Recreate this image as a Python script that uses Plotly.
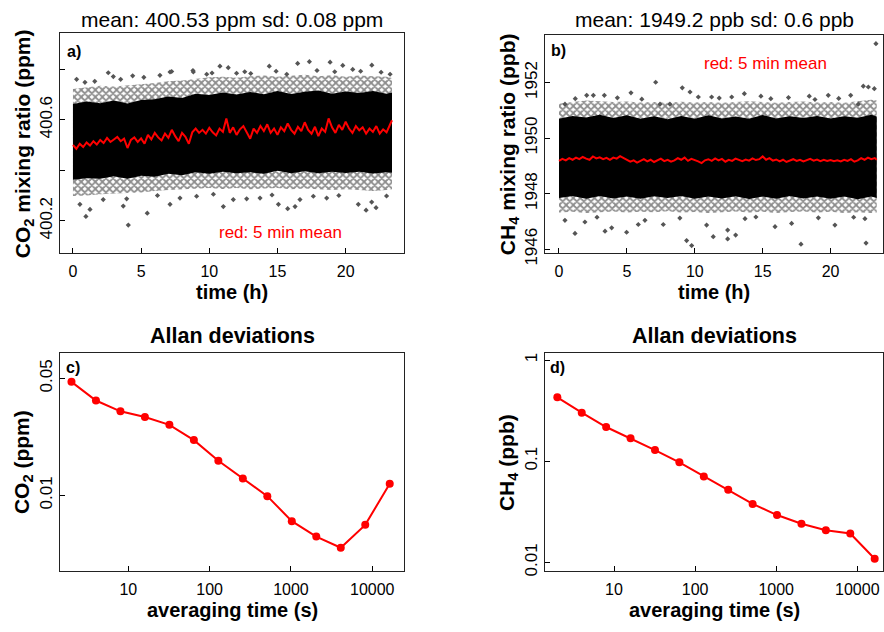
import plotly.graph_objects as go

# ---------------- data ----------------
# envelope sample times (h)
env_t = [0, 1, 2, 3, 4, 5, 6, 7, 8, 9, 10, 11, 12, 13, 14, 15, 16, 17, 18, 19, 20, 21, 22, 23, 23.4]

# CO2 raw-data cloud envelopes (ppm)
co2_outer_up = [400.722, 400.728, 400.735, 400.732, 400.735, 400.740, 400.745, 400.752, 400.755, 400.762, 400.768, 400.770, 400.766,
                400.772, 400.775, 400.770, 400.774, 400.778, 400.772, 400.776, 400.770, 400.775, 400.772, 400.770, 400.765]
co2_inner_up = [400.662, 400.672, 400.665, 400.676, 400.664, 400.678, 400.681, 400.692, 400.686, 400.703, 400.698, 400.708, 400.700,
                400.710, 400.701, 400.714, 400.702, 400.711, 400.716, 400.703, 400.712, 400.706, 400.714, 400.703, 400.708]
co2_inner_lo = [400.362, 400.368, 400.366, 400.376, 400.366, 400.378, 400.374, 400.386, 400.380, 400.392, 400.386, 400.394, 400.388,
                400.392, 400.386, 400.398, 400.388, 400.396, 400.388, 400.394, 400.389, 400.394, 400.387, 400.392, 400.390]
co2_outer_lo = [400.298, 400.300, 400.305, 400.308, 400.310, 400.312, 400.318, 400.322, 400.325, 400.328, 400.330, 400.326, 400.330,
                400.325, 400.328, 400.330, 400.325, 400.328, 400.326, 400.322, 400.325, 400.322, 400.318, 400.322, 400.325]

# CO2 isolated outlier points
co2_out_t = [2.59, 2.96, 4.38, 6.38, 7.12, 8.83, 10.78, 11.39, 12.0, 13.04, 14.4, 16.48, 17.34, 18.86, 19.79, 20.52, 21.92, 0.27, 0.88,
             9.81, 15.68, 23.26, 7.24, 8.8, 1.6, 3.5, 5.2, 10.2, 12.6, 14.9, 17.9, 19.2, 21.1, 22.6,
             0.95, 4.06, 5.45, 7.12, 11.03, 15.07, 15.75, 16.29, 16.65, 18.61, 20.93, 21.5, 22.23, 21.91, 1.25, 0.51, 3.69, 3.94,
             7.85, 11.76, 12.74, 13.72, 17.63, 2.22, 9.07, 6.2, 10.3, 14.6, 19.5, 23.0]
co2_out_v = [400.786, 400.771, 400.774, 400.776, 400.789, 400.789, 400.812, 400.806, 400.784, 400.783, 400.812, 400.823, 400.830,
             400.828, 400.815, 400.799, 400.816, 400.760, 400.748, 400.780, 400.780, 400.780, 400.791, 400.795, 400.752, 400.760,
             400.768, 400.785, 400.790, 400.792, 400.795, 400.790, 400.792, 400.788,
             400.217, 400.183, 400.230, 400.265, 400.256, 400.265, 400.248, 400.256, 400.284, 400.290, 400.265, 400.242, 400.252,
             400.274, 400.245, 400.265, 400.258, 400.287, 400.290, 400.284, 400.287, 400.290, 400.297, 400.284, 400.297, 400.300,
             400.305, 400.302, 400.300, 400.298]

# 5-min means (read every 0.25 h)
mean_t = [0.00, 0.25, 0.50, 0.75, 1.00, 1.25, 1.50, 1.75, 2.00, 2.25, 2.50, 2.75, 3.00, 3.25, 3.50, 3.75,
          4.00, 4.25, 4.50, 4.75, 5.00, 5.25, 5.50, 5.75, 6.00, 6.25, 6.50, 6.75, 7.00, 7.25, 7.50, 7.75,
          8.00, 8.25, 8.50, 8.75, 9.00, 9.25, 9.50, 9.75, 10.00, 10.25, 10.50, 10.75, 11.00, 11.25, 11.50, 11.75,
          12.00, 12.25, 12.50, 12.75, 13.00, 13.25, 13.50, 13.75, 14.00, 14.25, 14.50, 14.75, 15.00, 15.25, 15.50, 15.75,
          16.00, 16.25, 16.50, 16.75, 17.00, 17.25, 17.50, 17.75, 18.00, 18.25, 18.50, 18.75, 19.00, 19.25, 19.50, 19.75,
          20.00, 20.25, 20.50, 20.75, 21.00, 21.25, 21.50, 21.75, 22.00, 22.25, 22.50, 22.75, 23.00, 23.25, 23.40]
co2_mean = [400.500, 400.485, 400.505, 400.492, 400.510, 400.498, 400.515, 400.502, 400.520, 400.508, 400.528, 400.512, 400.522, 400.532, 400.515, 400.525,
            400.488, 400.520, 400.530, 400.512, 400.526, 400.505, 400.540, 400.522, 400.548, 400.530, 400.518, 400.545, 400.528, 400.560, 400.535, 400.515,
            400.548, 400.532, 400.505, 400.550, 400.565, 400.548, 400.560, 400.545, 400.568, 400.550, 400.538, 400.565, 400.552, 400.605, 400.548, 400.570,
            400.540, 400.562, 400.575, 400.550, 400.525, 400.565, 400.548, 400.575, 400.555, 400.582, 400.548, 400.565, 400.540, 400.570, 400.555, 400.585,
            400.560, 400.545, 400.572, 400.555, 400.590, 400.560, 400.545, 400.572, 400.535, 400.565, 400.552, 400.605, 400.570, 400.548, 400.580, 400.560,
            400.592, 400.565, 400.548, 400.575, 400.558, 400.570, 400.545, 400.565, 400.552, 400.575, 400.545, 400.562, 400.550, 400.580, 400.598]

# CH4 raw-data cloud envelopes (ppb)
ch4_outer_up = [1951.25, 1951.30, 1951.35, 1951.33, 1951.30, 1951.32, 1951.28, 1951.30, 1951.27, 1951.31, 1951.28, 1951.30, 1951.27,
                1951.30, 1951.33, 1951.30, 1951.27, 1951.30, 1951.32, 1951.28, 1951.30, 1951.27, 1951.32, 1951.38, 1951.35]
ch4_inner_up = [1950.70, 1950.80, 1950.74, 1950.84, 1950.72, 1950.82, 1950.70, 1950.79, 1950.68, 1950.80, 1950.70, 1950.82, 1950.71,
                1950.78, 1950.70, 1950.83, 1950.71, 1950.79, 1950.72, 1950.80, 1950.71, 1950.79, 1950.73, 1950.84, 1950.78]
ch4_inner_lo = [1947.84, 1947.92, 1947.82, 1947.92, 1947.83, 1947.90, 1947.82, 1947.91, 1947.84, 1947.92, 1947.82, 1947.90, 1947.83,
                1947.91, 1947.81, 1947.90, 1947.82, 1947.92, 1947.83, 1947.90, 1947.82, 1947.90, 1947.80, 1947.90, 1947.84]
ch4_outer_lo = [1947.32, 1947.35, 1947.30, 1947.34, 1947.36, 1947.32, 1947.35, 1947.33, 1947.37, 1947.32, 1947.34, 1947.30, 1947.33,
                1947.36, 1947.32, 1947.35, 1947.30, 1947.34, 1947.36, 1947.32, 1947.35, 1947.30, 1947.33, 1947.30, 1947.32]

ch4_out_t = [23.34, 7.12, 9.08, 9.65, 5.30, 13.65, 22.41, 22.78, 23.22, 21.48, 19.83, 18.43, 14.87, 12.72, 11.24, 2.04, 2.53, 3.34,
             10.26, 7.44, 8.17, 0.44, 22.04, 18.85, 1.2, 4.3, 6.1, 11.8, 15.6, 16.9, 20.6,
             1.18, 3.39, 4.98, 9.40, 9.77, 11.36, 12.42, 13.01, 12.42, 17.82, 22.61, 3.88, 5.84, 10.87, 15.91, 20.32, 0.44, 1.91,
             7.68, 13.70, 17.13, 22.53, 6.33, 2.8, 8.9, 14.5, 19.1, 21.7]
ch4_out_v = [1953.40, 1952.01, 1951.81, 1951.66, 1951.63, 1951.60, 1951.87, 1951.84, 1951.78, 1951.54, 1951.54, 1951.51, 1951.51,
             1951.48, 1951.48, 1951.54, 1951.54, 1951.54, 1951.48, 1951.22, 1951.22, 1951.22, 1951.22, 1951.39, 1951.42,
             1951.45, 1951.40, 1951.44, 1951.42, 1951.46, 1951.43,
             1946.57, 1946.65, 1946.61, 1946.31, 1946.13, 1946.45, 1946.37, 1946.51, 1946.69, 1946.18, 1946.22, 1946.77, 1946.89,
             1946.87, 1946.81, 1946.87, 1947.04, 1946.98, 1946.89, 1947.10, 1946.93, 1947.10, 1947.04, 1947.15, 1947.12,
             1947.16, 1947.13, 1947.15]

ch4_mean = [1949.18, 1949.25, 1949.20, 1949.28, 1949.22, 1949.30, 1949.24, 1949.32, 1949.26, 1949.22, 1949.34, 1949.27, 1949.31, 1949.24, 1949.29, 1949.22,
            1949.30, 1949.26, 1949.35, 1949.28, 1949.22, 1949.15, 1949.20, 1949.12, 1949.18, 1949.24, 1949.16, 1949.22, 1949.14, 1949.20, 1949.26, 1949.17,
            1949.22, 1949.15, 1949.20, 1949.28, 1949.22, 1949.30, 1949.18, 1949.25, 1949.21, 1949.16, 1949.10, 1949.20, 1949.24, 1949.18, 1949.27, 1949.20,
            1949.25, 1949.15, 1949.22, 1949.18, 1949.26, 1949.20, 1949.17, 1949.23, 1949.19, 1949.27, 1949.21, 1949.24, 1949.34, 1949.22, 1949.28, 1949.19,
            1949.23, 1949.16, 1949.22, 1949.14, 1949.20, 1949.24, 1949.18, 1949.22, 1949.16, 1949.21, 1949.25, 1949.19, 1949.23, 1949.17, 1949.22, 1949.18,
            1949.21, 1949.17, 1949.20, 1949.16, 1949.22, 1949.18, 1949.24, 1949.15, 1949.20, 1949.28, 1949.22, 1949.30, 1949.24, 1949.28, 1949.22]

# Allan deviations
tau = [2, 4, 8, 16, 32, 64, 128, 256, 512, 1024, 2048, 4096, 8192, 16384]
adev_co2 = [0.0477, 0.0369, 0.0318, 0.0294, 0.0264, 0.0214, 0.0161, 0.01264, 0.0099, 0.00702, 0.00568, 0.00487, 0.00667, 0.01175]
adev_ch4 = [0.428, 0.302, 0.218, 0.169, 0.129, 0.0976, 0.0708, 0.0522, 0.0379, 0.0294, 0.0241, 0.0208, 0.0193, 0.01087]

# tick labels
time_ticks = [0, 5, 10, 15, 20]
co2_ticks = [400.2, 400.6]
co2_minor_ticks = [400.4, 400.8]
ch4_ticks = [1946, 1948, 1950, 1952]
tau_ticks = [10, 100, 1000, 10000]
adev_co2_ticks = [0.01, 0.05]
adev_ch4_ticks = [0.01, 0.1, 1]

# ---------------- figure ----------------
W, H = 884, 632
FONT = "Liberation Sans, Arial, sans-serif"
RED = "#FF0000"


def px(x):
    return x / W


def py(y):
    return 1 - y / H


fig = go.Figure()


def band(xa, ya, up, lo, **kw):
    fig.add_trace(go.Scatter(x=env_t + env_t[::-1], y=up + lo[::-1], mode="lines", line=dict(width=0),
                             fill="toself", xaxis=xa, yaxis=ya, hoverinfo="skip", showlegend=False, **kw))


fringe = dict(shape="x", fgcolor="#1a1a1a", bgcolor="rgba(255,255,255,0)", size=5, solidity=0.6)

# panel a
band("x", "y", co2_outer_up, co2_outer_lo, fillpattern=fringe)
band("x", "y", co2_inner_up, co2_inner_lo, fillcolor="black")
fig.add_trace(go.Scatter(x=co2_out_t, y=co2_out_v, mode="markers", xaxis="x", yaxis="y", showlegend=False,
                         marker=dict(symbol="diamond", size=4, color="#555555")))
fig.add_trace(go.Scatter(x=mean_t, y=co2_mean, mode="lines", xaxis="x", yaxis="y", showlegend=False,
                         line=dict(color=RED, width=2)))

# panel b
band("x2", "y2", ch4_outer_up, ch4_outer_lo, fillpattern=fringe)
band("x2", "y2", ch4_inner_up, ch4_inner_lo, fillcolor="black")
fig.add_trace(go.Scatter(x=ch4_out_t, y=ch4_out_v, mode="markers", xaxis="x2", yaxis="y2", showlegend=False,
                         marker=dict(symbol="diamond", size=4, color="#555555")))
fig.add_trace(go.Scatter(x=mean_t, y=ch4_mean, mode="lines", xaxis="x2", yaxis="y2", showlegend=False,
                         line=dict(color=RED, width=2)))

# panel c, d
fig.add_trace(go.Scatter(x=tau, y=adev_co2, mode="lines+markers", xaxis="x3", yaxis="y3", showlegend=False,
                         line=dict(color=RED, width=2), marker=dict(color=RED, size=8)))
fig.add_trace(go.Scatter(x=tau, y=adev_ch4, mode="lines+markers", xaxis="x4", yaxis="y4", showlegend=False,
                         line=dict(color=RED, width=2), marker=dict(color=RED, size=8)))

axis_common = dict(showline=True, mirror=True, linecolor="#222222", linewidth=1.3, showgrid=False, zeroline=False,
                   ticks="inside", ticklen=5, tickcolor="black")
yfont = dict(tickfont=dict(size=17, color="black"))
xfont_top = dict(tickfont=dict(size=16, color="black"), ticklabelstandoff=4)
xfont_bot = dict(tickfont=dict(size=16, color="black"), ticklabelstandoff=3)

dom_left = [px(60), px(404)]
dom_right = [px(545), px(883)]
dom_top_a = [py(258), py(34)]
dom_top_b = [py(258), py(36)]
dom_bot = [py(582.3), py(360)]

fig.update_layout(
    width=W, height=H, margin=dict(l=0, r=0, t=0, b=0),
    paper_bgcolor="white", plot_bgcolor="white",
    font=dict(family=FONT, color="black"),
    xaxis=dict(domain=dom_left, anchor="y", range=[-0.95, 24.28], tickvals=time_ticks, **axis_common, **xfont_top),
    yaxis=dict(domain=dom_top_a, anchor="x", range=[400.072, 400.942], tickvals=co2_ticks,
               ticktext=[f"{v:.1f}" for v in co2_ticks], tickangle=-90,
               minor=dict(tickvals=co2_minor_ticks, ticks="inside", ticklen=5, tickcolor="black", showgrid=False),
               **axis_common, **yfont),
    xaxis2=dict(domain=dom_right, anchor="y2", range=[-1.03, 23.86], tickvals=time_ticks, **axis_common, **xfont_top),
    yaxis2=dict(domain=dom_top_b, anchor="x2", range=[1945.86, 1953.70], tickvals=ch4_ticks, tickangle=-90,
                **axis_common, **yfont),
    xaxis3=dict(domain=dom_left, anchor="y3", type="log", range=[0.16, 4.39], tickvals=tau_ticks,
                ticktext=[str(v) for v in tau_ticks], **axis_common, **xfont_bot),
    yaxis3=dict(domain=dom_bot, anchor="x3", type="log", range=[-2.453, -1.150], tickvals=adev_co2_ticks,
                ticktext=["0.01", "0.05"], tickangle=-90, **axis_common, **yfont),
    xaxis4=dict(domain=dom_right, anchor="y4", type="log", range=[0.149, 4.317], tickvals=tau_ticks,
                ticktext=[str(v) for v in tau_ticks], **axis_common, **xfont_bot),
    yaxis4=dict(domain=dom_bot, anchor="x4", type="log", range=[-2.087, 0.068], tickvals=adev_ch4_ticks,
                ticktext=["0.01", "0.1", "1"], tickangle=-90, **axis_common, **yfont),
)


def ann(text, x, y, size, bold=False, angle=0, color="black", xanchor="center"):
    fig.add_annotation(text=f"<b>{text}</b>" if bold else text, x=px(x), y=py(y), xref="paper", yref="paper",
                       showarrow=False, xanchor=xanchor, yanchor="middle", textangle=angle,
                       font=dict(family=FONT, size=size, color=color))


ann("mean: 400.53 ppm sd: 0.08 ppm", 232, 20, 21)
ann("mean: 1949.2 ppb sd: 0.6 ppb", 714, 20, 21)
ann("Allan deviations", 232, 342, 21.5, bold=True)
ann("Allan deviations", 714, 342, 21.5, bold=True)
ann("time (h)", 232, 298, 20, bold=True)
ann("time (h)", 714, 298, 20, bold=True)
ann("averaging time (s)", 232, 622, 20, bold=True)
ann("averaging time (s)", 714, 622, 20, bold=True)
ann("CO<sub>2</sub> mixing ratio (ppm)", 24, 147, 21, bold=True, angle=-90)
ann("CH<sub>4</sub> mixing ratio (ppb)", 509, 147, 21, bold=True, angle=-90)
ann("CO<sub>2</sub> (ppm)", 23, 471, 21, bold=True, angle=-90)
ann("CH<sub>4</sub> (ppb)", 508, 471, 21, bold=True, angle=-90)
ann("a)", 65, 52, 16, bold=True, xanchor="left")
ann("b)", 549, 51, 16, bold=True, xanchor="left")
ann("c)", 64, 375, 16, bold=True, xanchor="left")
ann("d)", 548, 375, 16, bold=True, xanchor="left")
ann("red: 5 min mean", 280, 237, 17, color=RED)
ann("red: 5 min mean", 765, 65, 17, color=RED)

fig.write_html("out.html", config=dict(displayModeBar=False))
